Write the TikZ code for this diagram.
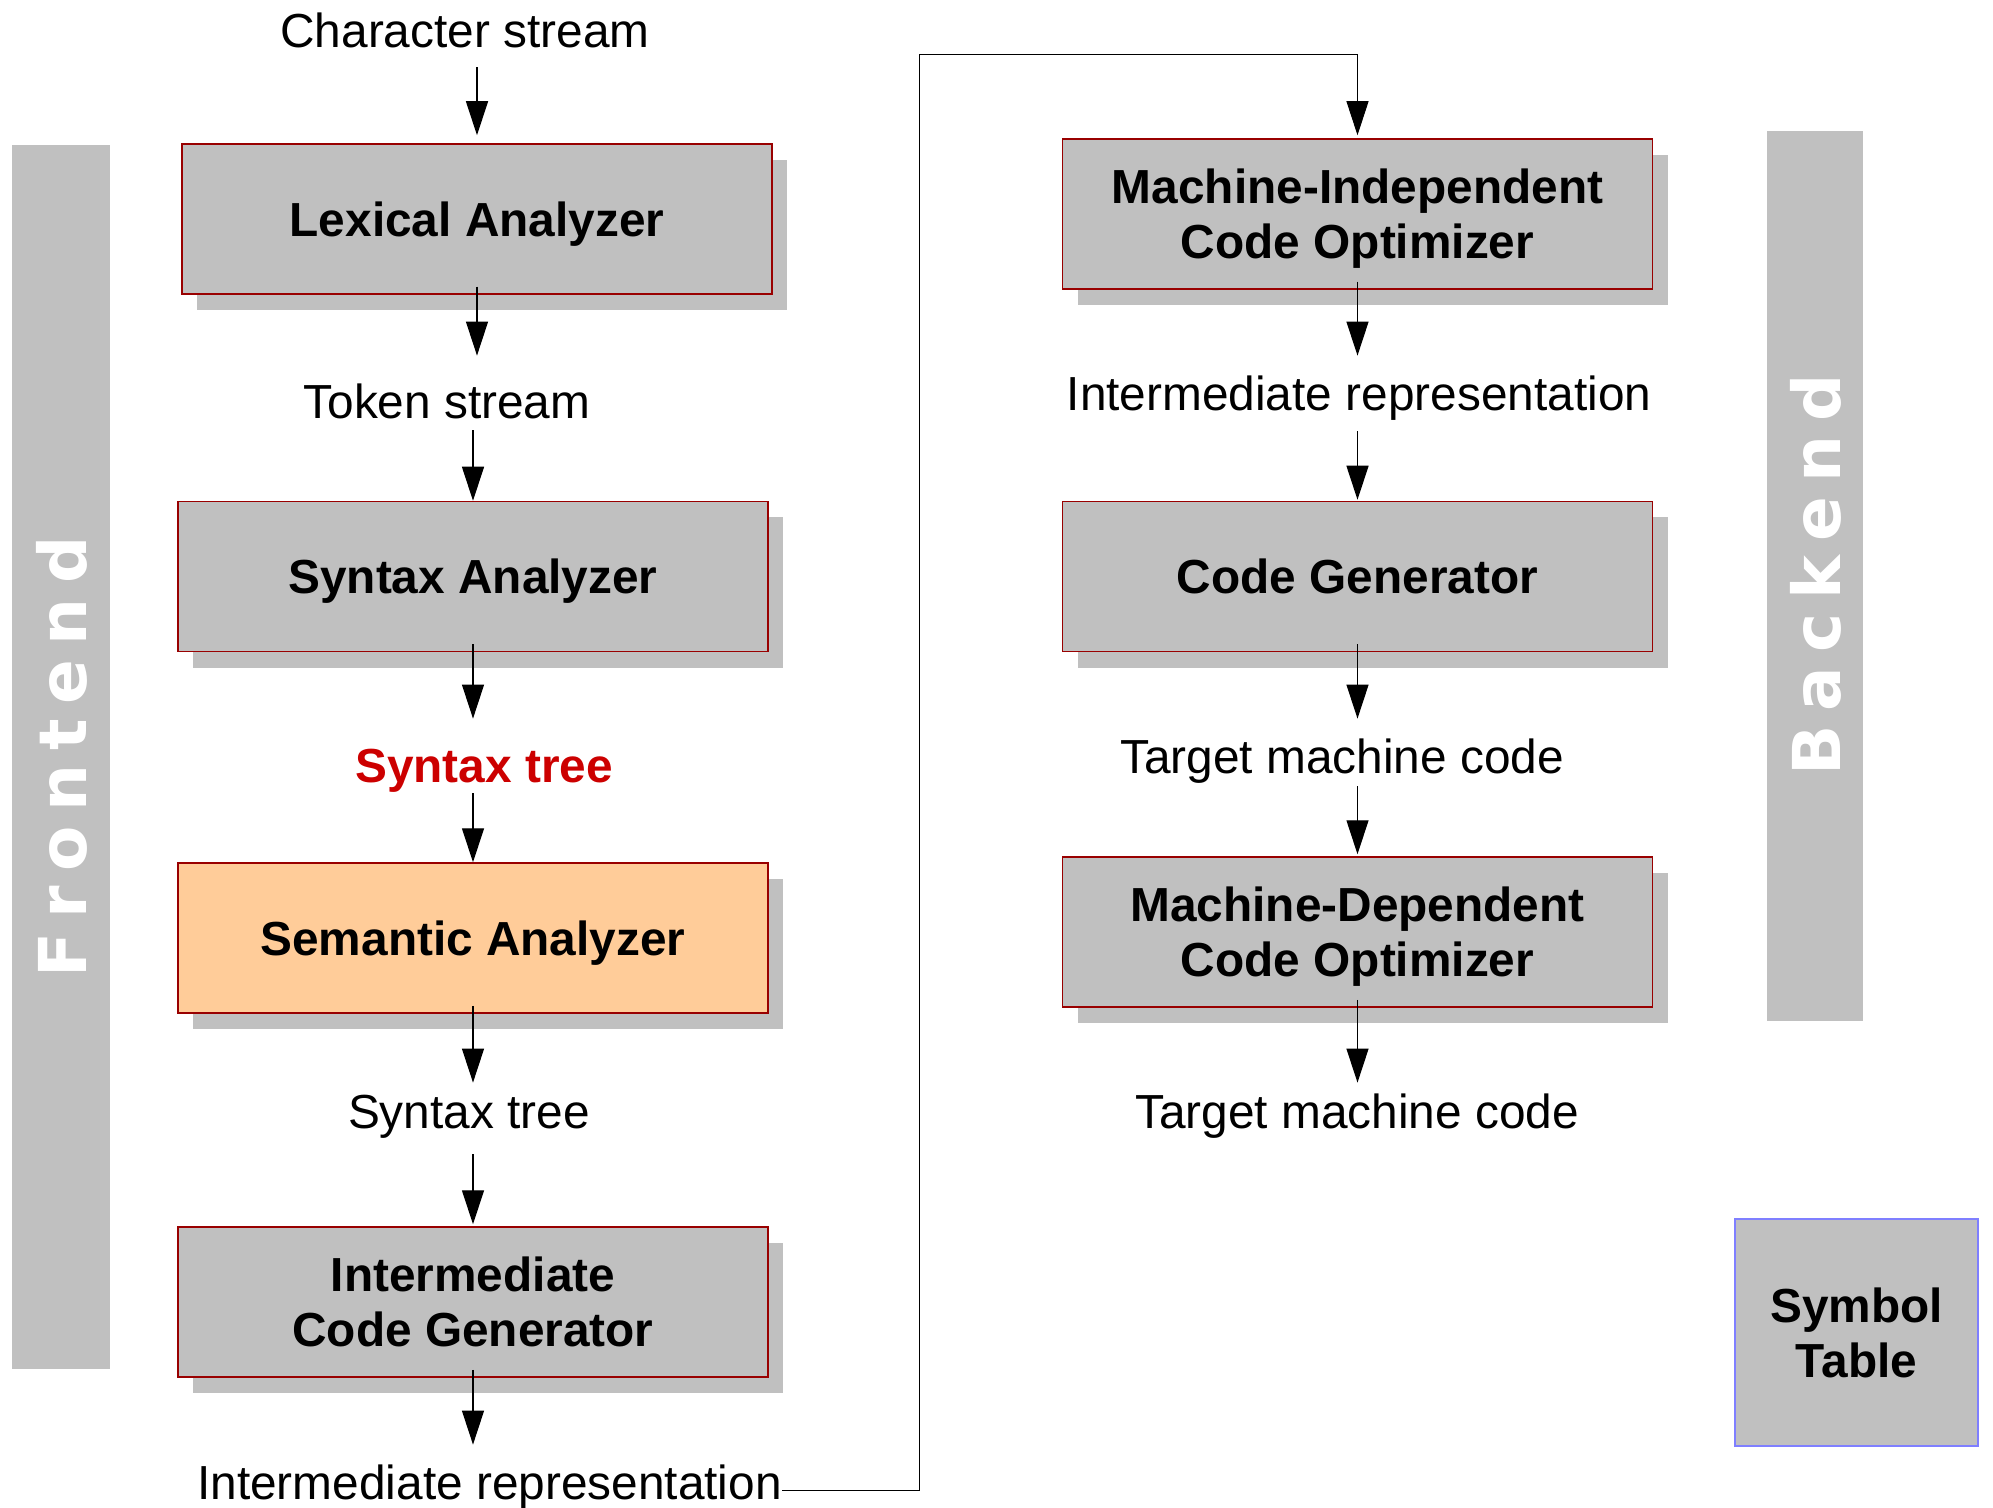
\documentclass[tikz,border=0pt]{standalone}
\usepackage{fontspec}
\setmainfont{Liberation Sans}
\newfontfamily\sidefont{DejaVu Sans}
\usetikzlibrary{arrows.meta,shadows}
\definecolor{boxgray}{HTML}{C0C0C0}
\definecolor{boxred}{HTML}{990000}
\definecolor{peach}{HTML}{FFCC99}
\definecolor{labred}{HTML}{CC0000}
\definecolor{symblue}{HTML}{7F7FFF}
\begin{document}
\begin{tikzpicture}[x=0.5pt,y=-0.5pt,
  stage/.style={draw=boxred, line width=0.75pt, fill=boxgray, minimum width=295pt, minimum height=75pt,
    inner sep=0pt, align=center, font=\fontsize{23.9pt}{27.5pt}\selectfont\bfseries,
    text height=17.4pt, text depth=0pt,
    drop shadow={shadow xshift=7.5pt, shadow yshift=-8pt, fill=boxgray, opacity=1}},
  twoline/.style={text height=44.9pt, text depth=0pt},
  lab/.style={inner sep=0pt, text height=17pt, text depth=5pt, anchor=base, font=\fontsize{23.9pt}{27.5pt}\selectfont},
  labbold/.style={lab, text=labred, font=\fontsize{23.9pt}{27.5pt}\selectfont\bfseries},
  arr/.style={draw=black, line width=0.6pt, -{Triangle[width=11pt,length=17pt]}},
  link/.style={draw=black, line width=0.5pt, -{Triangle[width=11pt,length=17pt]}},
  side/.style={fill=boxgray, draw=none, inner sep=0pt},
  sidetext/.style={rotate=90, anchor=base, text=white, inner sep=0pt,
    font=\sidefont\bfseries\fontsize{33pt}{38pt}\selectfont},
]
\useasboundingbox (0,0) rectangle (1993,1508);

% side bars
\node[side, minimum width=49pt, minimum height=612pt] (feBar) at (61,757) {};
\node[side, minimum width=48pt, minimum height=445pt] (beBar) at (1815,576) {};
\node[sidetext] (fe) at (86,757) {F\kern7.2pt r\kern7.2pt o\kern7.2pt n\kern7.2pt t\kern7.2pt e\kern7.2pt n\kern7.2pt d};
\node[sidetext] (be) at (1840,575) {B\kern7pt a\kern7pt c\kern7pt k\kern7pt e\kern7pt n\kern7pt d};

% stages
\node[stage] (lex) at (477,219) {Lexical Analyzer};
\node[stage] (syn) at (473,576.5) {Syntax Analyzer};
\node[stage, fill=peach] (sem) at (473,938) {Semantic Analyzer};
\node[stage, twoline] (icg) at (473,1302) {Intermediate\\Code Generator};
\node[stage, twoline] (mi) at (1357.5,214) {Machine-Independent\\Code Optimizer};
\node[stage] (cg) at (1357.5,576.5) {Code Generator};
\node[stage, twoline] (md) at (1357.5,932) {Machine-Dependent\\Code Optimizer};

\node[draw=symblue, line width=0.75pt, fill=boxgray, minimum width=121.5pt, minimum height=113.5pt,
  inner sep=0pt, align=center, font=\fontsize{23.9pt}{27.5pt}\selectfont\bfseries] (sym) at (1856.5,1332.5) {Symbol\\Table};

% labels
\node[lab] (cs) at (465,47.5) {Character stream};
\node[lab] (tok) at (447,419) {Token stream};
\node[labbold] (st1) at (484,782) {Syntax tree};
\node[lab] (st2) at (469,1128) {Syntax tree};
\node[lab] (irl) at (489.5,1499) {Intermediate representation};
\node[lab] (irr) at (1359,411) {Intermediate representation};
\node[lab] (tg1) at (1342,773) {Target machine code};
\node[lab] (tg2) at (1357,1128) {Target machine code};

% left column arrows
\draw[arr, shorten <=4.75pt, shorten >=4pt] (lex.north |- cs.south) -- (lex.north);
\draw[arr, shorten <=-4pt, shorten >=14.5pt] (lex.south) -- (lex.south |- tok.north);
\draw[arr, shorten <=0.5pt] (syn.north |- tok.south) -- (syn.north);
\draw[arr, shorten <=-4pt, shorten >=14.5pt] (syn.south) -- (syn.south |- st1.north);
\draw[arr, shorten <=0.5pt] (sem.north |- st1.south) -- (sem.north);
\draw[arr, shorten <=-4pt, shorten >=5.5pt] (sem.south) -- (sem.south |- st2.north);
\draw[arr, shorten <=8pt, shorten >=1pt] (icg.north |- st2.south) -- (icg.north);
\draw[arr, shorten <=-4pt, shorten >=10pt] (icg.south) -- (icg.south |- irl.north);

% link between columns
\coordinate (bend) at (919,55);
\draw[link, shorten >=1.5pt] ([yshift=-1.5pt]irl.east) -| (bend) -| (mi.north);

% right column arrows
\draw[arr, shorten <=-4pt, shorten >=10.5pt] (mi.south) -- (mi.south |- irr.north);
\draw[arr, shorten <=5pt, shorten >=0.5pt] (cg.north |- irr.south) -- (cg.north);
\draw[arr, shorten <=-4pt, shorten >=10pt] (cg.south) -- (cg.south |- tg1.north);
\draw[arr, shorten <=1.5pt, shorten >=1pt] (md.north |- tg1.south) -- (md.north);
\draw[arr, shorten <=-4pt, shorten >=5.5pt] (md.south) -- (md.south |- tg2.north);
\end{tikzpicture}
\end{document}
